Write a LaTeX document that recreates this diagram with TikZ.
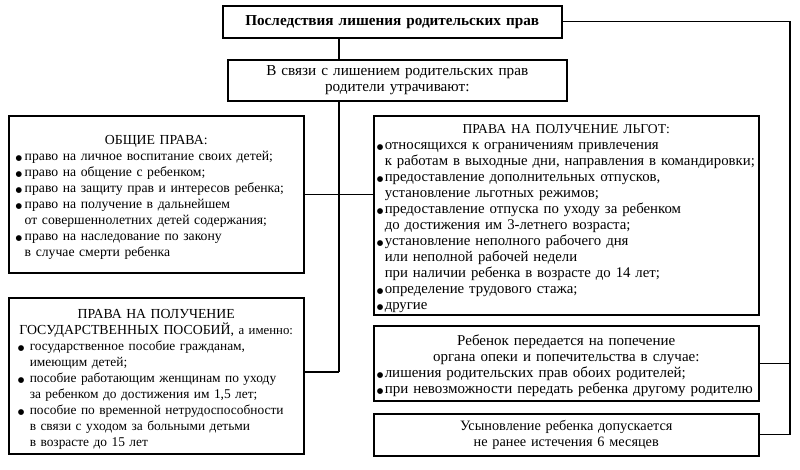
\documentclass[tikz,border=0pt]{standalone}
\usepackage{fontspec}
\setmainfont{Liberation Serif}
\newfontfamily\dv{DejaVu Sans}
\newlength{\bw}
\setlength{\bw}{9pt}
\tikzset{
  box/.style={draw, line width=1.5pt, anchor=north west, inner xsep=6pt, inner ysep=2pt},
  cbox/.style={box, align=center},
  conn/.style={line width=1.3pt}
}
\newcommand{\dotb}{{\dv\fontsize{7.5}{7.5}\selectfont ●}}
\newcommand{\bl}[1]{\par\noindent\hangindent=\bw\hangafter=1\makebox[\bw][l]{\dotb}#1}
\newcommand{\ttl}[2]{\par{\centering\fontsize{#1}{16}\selectfont #2\par}}
\begin{document}
\begin{tikzpicture}[x=1pt,y=-1pt]
\useasboundingbox (0,0) rectangle (800,469);
\fill[white] (0,0) rectangle (800,469);

\node[cbox, font=\bfseries\fontsize{15.2}{16}\selectfont, minimum width=339pt, minimum height=32pt, text width=327pt] (top) at (222,5) {Последствия лишения родительских прав};

\node[cbox, font=\fontsize{15.2}{16}\selectfont, minimum width=339pt, minimum height=41pt, text width=327pt] (mid) at (227,59) {В связи с лишением родительских прав\\ родители утрачивают:};

\node[box, font=\fontsize{13.7}{16}\selectfont, minimum width=295pt, minimum height=157pt, text width=281pt, inner xsep=7pt] (gen) at (8,115) {\raggedright\setlength{\bw}{9pt}%
\ttl{13.8}{ОБЩИЕ ПРАВА:}
\bl{право на личное воспитание своих детей;}
\bl{право на общение с ребенком;}
\bl{право на защиту прав и интересов ребенка;}
\bl{право на получение в дальнейшем\newline от совершеннолетних детей содержания;}
\bl{право на наследование по закону\newline в случае смерти ребенка}\par};

\node[box, font=\fontsize{13.4}{16}\selectfont, minimum width=295pt, minimum height=156pt, text width=289pt, inner xsep=3pt] (pos) at (8,297) {\raggedright\setlength{\bw}{12pt}%
\ttl{13.8}{ПРАВА НА ПОЛУЧЕНИЕ\\ ГОСУДАРСТВЕННЫХ ПОСОБИЙ, {\fontsize{12.8}{16}\selectfont а~именно:}}
\leftskip=6pt
\bl{государственное пособие гражданам,\newline имеющим детей;}
\bl{пособие работающим женщинам по уходу\newline за ребенком до достижения им 1,5 лет;}
\bl{пособие по временной нетрудоспособности\newline в связи с уходом за больными детьми\newline в возрасте до 15 лет}\par};

\node[box, font=\fontsize{14.8}{16}\selectfont, minimum width=385pt, minimum height=196pt, text width=379pt, inner xsep=3pt] (lg) at (373,115) {\raggedright\setlength{\bw}{8pt}%
\ttl{13.6}{ПРАВА НА ПОЛУЧЕНИЕ ЛЬГОТ:}
\bl{относящихся к ограничениям привлечения\newline к работам в выходные дни, направления в командировки;}
\bl{предоставление дополнительных отпусков,\newline установление льготных режимов;}
\bl{предоставление отпуска по уходу за ребенком\newline до достижения им 3-летнего возраста;}
\bl{установление неполного рабочего дня\newline или неполной рабочей недели\newline при наличии ребенка в возрасте до 14 лет;}
\bl{определение трудового стажа;}
\bl{другие}\par};

\node[box, font=\fontsize{15}{16}\selectfont, minimum width=385pt, minimum height=75pt, text width=379pt, inner xsep=3pt] (reb) at (373,325) {\raggedright\setlength{\bw}{8pt}%
\ttl{15}{Ребенок передается на попечение\\ органа опеки и попечительства в случае:}
\bl{лишения родительских прав обоих родителей;}
\bl{при невозможности передать ребенка другому родителю}\par};

\node[cbox, font=\fontsize{14.3}{16}\selectfont, minimum width=385pt, minimum height=42pt, text width=379pt, inner xsep=3pt] (us) at (373,413) {Усыновление ребенка допускается\\ не ранее истечения 6 месяцев};

\coordinate (cx) at (339,0);
\coordinate (j2) at (339,372);
\coordinate (rc) at (790,0);
\draw[conn] (top.south -| cx) -- (mid.north -| cx);
\draw[conn] (mid.south -| cx) -- (j2);
\draw[conn] (pos.east |- j2) -- (j2);
\draw[conn] (gen.east) -- (lg.west |- gen.east);
\draw[conn] (top.east) -- (top.east -| rc) -- (rc |- us.east) -- (us.east);
\draw[conn] (rc |- reb.east) -- (reb.east);
\end{tikzpicture}
\end{document}
